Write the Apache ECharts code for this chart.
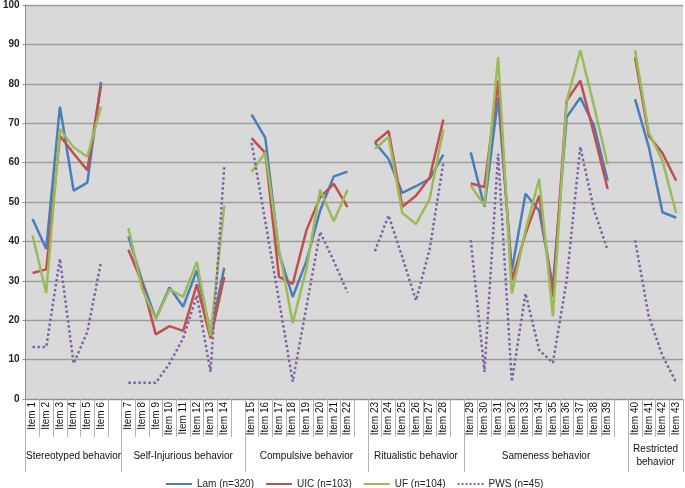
<!DOCTYPE html>
<html><head><meta charset="utf-8">
<script src="https://cdn.jsdelivr.net/npm/echarts@6/dist/echarts.min.js"></script>
<style>html,body{margin:0;padding:0;background:#fff}#c{width:685px;height:488px}</style>
</head><body><div id="c"></div>
<script>
// Groups of items (category axis structure)
const groupNames = ['Stereotyped behavior', 'Self-Injurious behavior', 'Compulsive behavior', 'Ritualistic behavior', 'Sameness behavior', 'Restricted\nbehavior'];
const groupSizes = [6, 8, 8, 6, 11, 4];

// Series values, Item 1 .. Item 43
const lam = [45.7, 38.1, 74.2, 52.9, 54.9, 80.5,
  41.3, 30, 20.4, 28.3, 23.4, 32.7, 16.6, 33.3,
  72.2, 66.3, 37, 25.9, 35, 47.8, 56.5, 57.7,
  65.1, 60.9, 52.3, 54, 55.9, 62,
  62.6, 48.8, 76.5, 32.7, 52.1, 47.8, 28.5, 71.5, 76.5, 69.4, 55.4,
  76.1, 64, 47.4, 46];
const uic = [32, 32.9, 66.8, 62.3, 58.1, 79.5,
  37.9, 29.5, 16.4, 18.5, 17.3, 29.1, 15.4, 31,
  66.2, 62.4, 31, 29.2, 42.8, 51.2, 54.6, 48.7,
  65.1, 68, 48.8, 51.6, 56.2, 70.9,
  54.7, 53.8, 80.8, 30.1, 41.9, 51.6, 25.9, 75.7, 80.8, 67.3, 53.3,
  86.7, 66.8, 62.4, 55.4];
const uf = [41.5, 26.9, 68.5, 63.9, 61.5, 74.2,
  43.4, 28, 20.3, 27.8, 25.9, 34.8, 16, 49.1,
  57.7, 62.6, 38, 19.3, 33, 53.1, 45.1, 53.1,
  63.5, 66.5, 47.2, 44.4, 50.8, 68.4,
  54.2, 49.1, 86.8, 26.8, 42.8, 55.9, 21, 75.5, 88.5, 74.4, 59.5,
  88.5, 67.7, 60.5, 47.2];
const pws = [13.2, 13.2, 35.6, 9, 17, 34.8,
  4.1, 4.1, 4.1, 9, 15.4, 26.3, 6.9, 59,
  65, 45, 25, 4.4, 23.4, 42.4, 35, 27,
  37.5, 46.6, 36, 25, 38, 60,
  40.3, 6.9, 62.2, 4.4, 26.8, 12.4, 9.2, 30, 64, 48, 37.7,
  40.3, 21, 11, 4.2];

const seriesNames = ['Lam (n=320)', 'UIC (n=103)', 'UF (n=104)', 'PWS (n=45)'];
const seriesColors = ['#4a7ebb', '#c0504d', '#9bbb59', '#8064a2'];
const yMin = 0, yMax = 100, yStep = 10;

// Build slots: items of each group followed by an empty slot (gap)
const categories = [];
const slotOfItem = [];
const groupStart = [];
const groupCenter = [];
let item = 0;
groupSizes.forEach((n, g) => {
  const start = categories.length;
  groupStart.push(start);
  for (let i = 0; i < n; i++) {
    item++;
    slotOfItem.push(categories.length);
    categories.push('Item ' + item);
  }
  if (g < groupSizes.length - 1) categories.push('');
  groupCenter.push((start + categories.length) / 2);
});
const totalSlots = categories.length;
function toSlots(arr) {
  const out = new Array(totalSlots).fill(null);
  arr.forEach((v, i) => { out[slotOfItem[i]] = v; });
  return out;
}
const allData = [lam, uic, uf, pws].map(toSlots);

const chart = echarts.init(document.getElementById('c'), null, {renderer: 'canvas'});
const font = 'Liberation Sans';
chart.setOption({
  animation: false,
  textStyle: {fontFamily: font},
  grid: {left: 23, right: 2, top: 4, bottom: 89, show: true, backgroundColor: '#d9d9d9', borderWidth: 0},
  legend: {
    left: 160, top: 474, itemWidth: 26, itemHeight: 10, itemGap: 11,
    itemStyle: {opacity: 0},
    textStyle: {fontFamily: font, fontSize: 10, color: '#222'},
    data: seriesNames
  },
  xAxis: [
    {
      type: 'category', data: categories, boundaryGap: true,
      axisLine: {show: true, lineStyle: {color: '#8c8c8c', width: 1}},
      axisTick: {show: true, interval: 0, length: 38, lineStyle: {color: '#b4b4b4'}},
      axisLabel: {interval: 0, rotate: 90, margin: 3, fontSize: 10, color: '#111', fontFamily: font},
      splitLine: {show: false}
    },
    {
      type: 'category', data: categories, boundaryGap: true, position: 'bottom',
      axisLine: {show: false},
      axisTick: {show: true, length: 73, lineStyle: {color: '#b4b4b4'},
        interval: function (idx) { return groupStart.indexOf(idx) >= 0; }},
      axisLabel: {show: false},
      splitLine: {show: false}
    },
    {
      type: 'value', min: 0, max: totalSlots, interval: 0.5, position: 'bottom',
      axisLine: {show: false}, axisTick: {show: false}, splitLine: {show: false},
      axisLabel: {
        show: true, margin: 57, verticalAlign: 'middle', fontSize: 10, lineHeight: 13,
        color: '#111', fontFamily: font, showMinLabel: false, showMaxLabel: false,
        formatter: function (v) {
          for (let g = 0; g < groupCenter.length; g++) {
            if (Math.abs(groupCenter[g] - v) < 1e-6) return groupNames[g];
          }
          return '';
        }
      }
    }
  ],
  yAxis: {
    type: 'value', min: yMin, max: yMax, interval: yStep,
    axisLine: {show: true, lineStyle: {color: '#8c8c8c'}},
    axisTick: {show: true, length: 3, lineStyle: {color: '#8c8c8c'}},
    axisLabel: {fontSize: 10, fontWeight: 'bold', color: '#222', margin: 6, fontFamily: font},
    splitLine: {show: true, lineStyle: {color: '#9e9e9e', width: 1.3}}
  },
  series: seriesNames.map((name, i) => ({
    name: name, type: 'line', data: allData[i], xAxisIndex: 0,
    symbol: 'none', connectNulls: false, smooth: false,
    itemStyle: {color: seriesColors[i]},
    lineStyle: {color: seriesColors[i], width: 2.5, type: i === 3 ? 'dotted' : 'solid'}
  }))
});
</script>
</body></html>
